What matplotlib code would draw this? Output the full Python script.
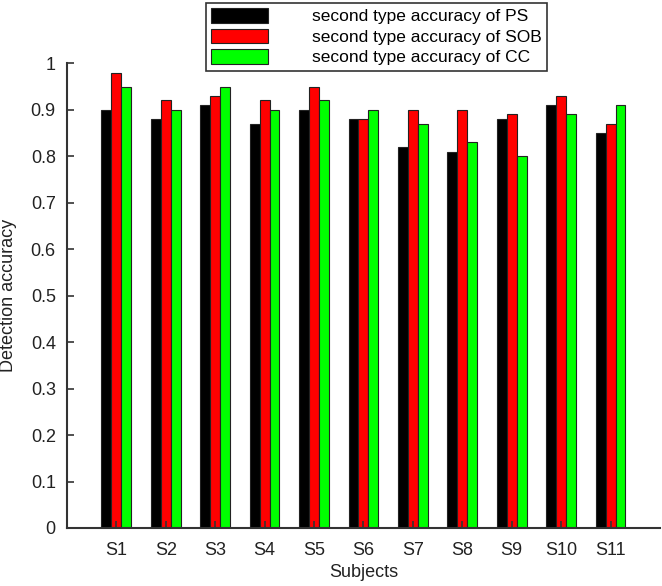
import matplotlib.pyplot as plt
import numpy as np

plt.rcParams['font.family'] = ['Liberation Sans', 'DejaVu Sans']

subjects = ['S1', 'S2', 'S3', 'S4', 'S5', 'S6', 'S7', 'S8', 'S9', 'S10', 'S11']
ps = [0.90, 0.88, 0.91, 0.87, 0.90, 0.88, 0.82, 0.81, 0.88, 0.91, 0.85]
sob = [0.98, 0.92, 0.93, 0.92, 0.95, 0.88, 0.90, 0.90, 0.89, 0.93, 0.87]
cc = [0.95, 0.90, 0.95, 0.90, 0.92, 0.90, 0.87, 0.83, 0.80, 0.89, 0.91]
labels = ['second type accuracy of PS', 'second type accuracy of SOB',
          'second type accuracy of CC']

fig = plt.figure(figsize=(6.62, 5.86), dpi=100)
ax = fig.add_axes([0.101, 0.099, 0.896, 0.793])

x = np.arange(1, len(subjects) + 1)
w = 0.2
edge = '#222222'
ax.bar(x - w, ps, w, color='black', edgecolor=edge, linewidth=0.8, label=labels[0])
ax.bar(x, sob, w, color='#ff0000', edgecolor=edge, linewidth=0.8, label=labels[1])
ax.bar(x + w, cc, w, color='#00ff00', edgecolor=edge, linewidth=0.8, label=labels[2])

ax.set_xlim(0, 12)
ax.set_ylim(0, 1)
ax.set_xticks(x)
ax.set_xticklabels(subjects)
ax.set_yticks(np.arange(0, 1.01, 0.1))
ax.set_yticklabels(['0', '0.1', '0.2', '0.3', '0.4', '0.5', '0.6', '0.7', '0.8', '0.9', '1'])
ax.tick_params(direction='in', length=5, width=1.2, labelsize=13, colors='#333333',
               labelcolor='#222222')
ax.tick_params(axis='x', pad=10)
ax.tick_params(axis='y', pad=8)

for s in ['top', 'right']:
    ax.spines[s].set_visible(False)
for s in ['left', 'bottom']:
    ax.spines[s].set_linewidth(1.5)
    ax.spines[s].set_color('#333333')

ax.set_xlabel('Subjects', fontsize=13, color='#222222', labelpad=4)
ax.set_ylabel('Detection accuracy', fontsize=13, color='#222222', labelpad=10)

leg = ax.legend(loc='upper left', bbox_to_anchor=(0.311, 0.995),
                bbox_transform=fig.transFigure, fontsize=12.5, frameon=True,
                fancybox=False, framealpha=1, edgecolor='#333333',
                handlelength=3.3, handleheight=0.9, handletextpad=2.5,
                labelspacing=0.25, borderpad=0.3, borderaxespad=0)
leg.get_frame().set_linewidth(1.2)

fig.savefig('out.png', dpi=100)
